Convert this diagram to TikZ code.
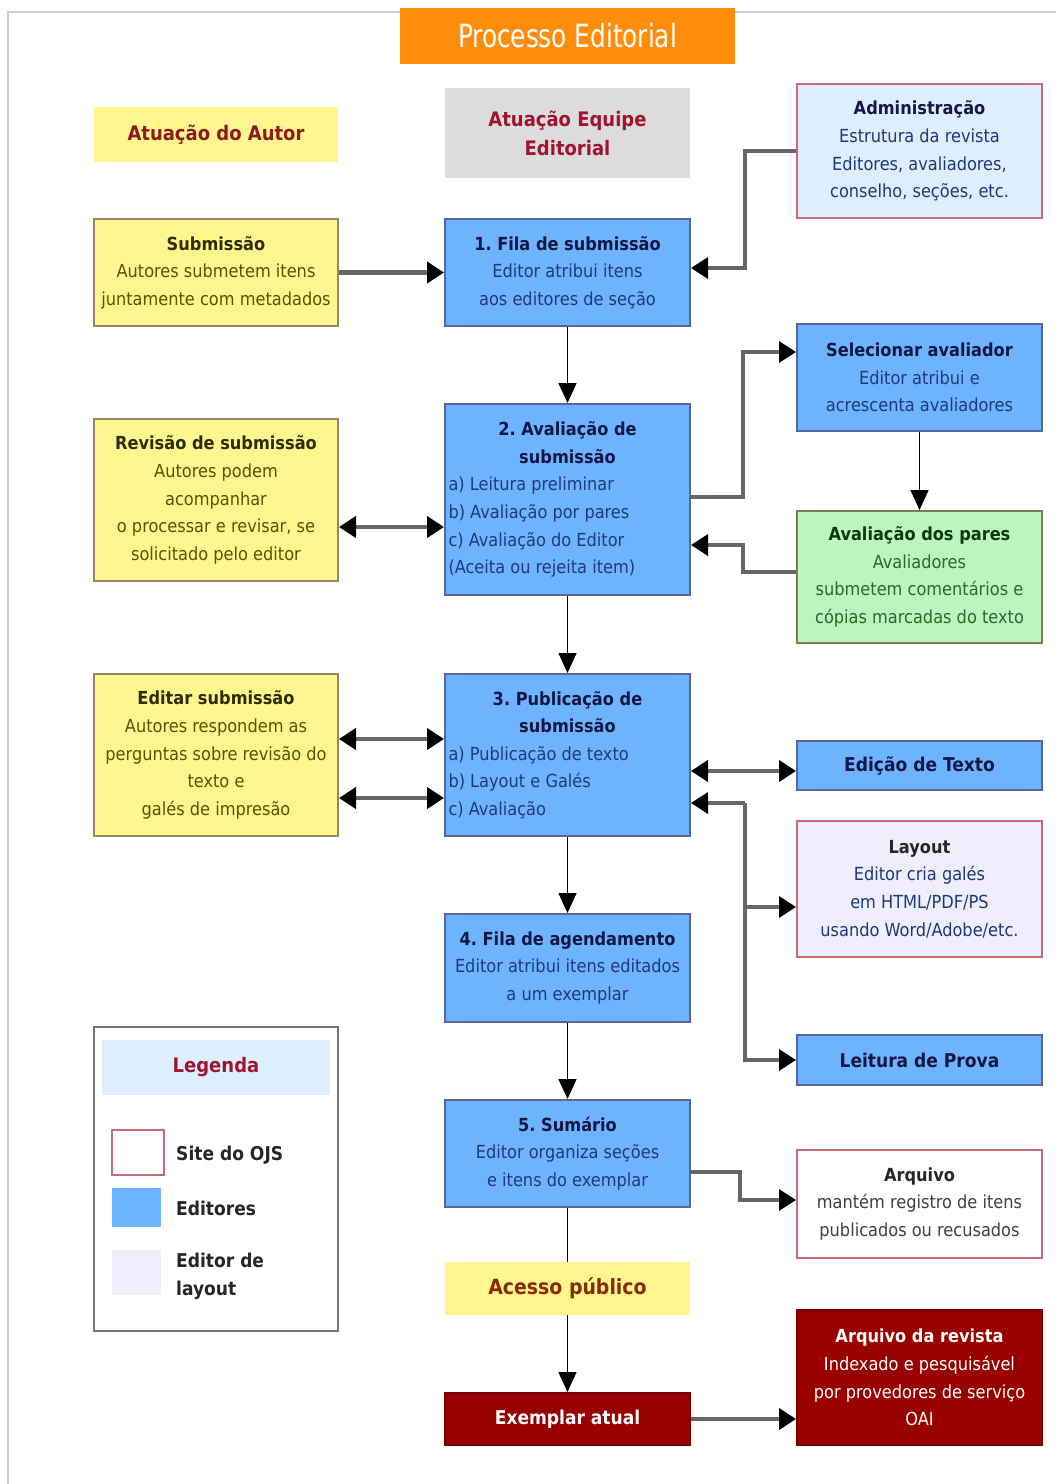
\documentclass[tikz,border=0pt]{standalone}
\usepackage{fontspec}
\setmainfont{DejaVu Sans Condensed}
\usepackage{graphicx}
\usetikzlibrary{arrows.meta}
\frenchspacing

\definecolor{ylw}{HTML}{FFF68F}
\definecolor{ylwb}{HTML}{9A8660}
\definecolor{blu}{HTML}{6DB3FF}
\definecolor{blub}{HTML}{56679A}
\definecolor{grn}{HTML}{BDF5BD}
\definecolor{grnb}{HTML}{7E7A5E}
\definecolor{admf}{HTML}{DDEEFF}
\definecolor{pinkb}{HTML}{C86A78}
\definecolor{lav}{HTML}{EEEEFC}
\definecolor{dred}{HTML}{990000}
\definecolor{hgray}{HTML}{DCDCDC}
\definecolor{orng}{HTML}{FF8C0A}
\definecolor{hred}{HTML}{8E1A1A}
\definecolor{hcrim}{HTML}{A0142E}
\definecolor{accc}{HTML}{8A2A00}
\definecolor{navyt}{HTML}{141845}
\definecolor{navyb}{HTML}{1F3A7A}
\definecolor{olvt}{HTML}{2E2E00}
\definecolor{olvb}{HTML}{585400}
\definecolor{grnt}{HTML}{0A3A0A}
\definecolor{grnbt}{HTML}{2A6A2A}
\definecolor{cgray}{HTML}{666666}
\definecolor{framec}{HTML}{CFCFCF}
\definecolor{legb}{HTML}{777777}

\newcommand\fs{\fontsize{18}{27.6}\selectfont}
\newcommand\ttl[2]{\textcolor{#1}{\bfseries #2}}
\newcommand\bx[7]{\node[#6, minimum width=#4pt-#2pt, minimum height=#5pt-#3pt] (#1) at ({(#2+#4)/2},{(#3+#5)/2}) {#7};}

\tikzset{
  bxs/.style={draw, line width=2pt, inner sep=2pt, align=center, font=\fs},
  ybox/.style={bxs, fill=ylw, draw=ylwb, text=olvb},
  bbox/.style={bxs, fill=blu, draw=blub, text=navyb},
  gbox/.style={bxs, fill=grn, draw=grnb, text=grnbt},
  abox/.style={bxs, fill=admf, draw=pinkb, text=navyb},
  lbox/.style={bxs, fill=lav, draw=pinkb, text=navyb},
  wbox/.style={bxs, fill=white, draw=pinkb, text=black!75},
  rbox/.style={bxs, fill=dred, draw=dred!80!black, text=white},
  hdr/.style={inner sep=2pt, align=center, font=\fontsize{20}{29}\selectfont\bfseries},
  hconn/.style={draw=cgray, line width=4.5pt, -{Triangle[length=17pt,width=21pt,color=black]}},
  hdbl/.style={draw=cgray, line width=4.5pt, {Triangle[length=17pt,width=21pt,color=black]}-{Triangle[length=17pt,width=21pt,color=black]}},
  vconn/.style={draw=black, line width=1.6pt, -{Triangle[length=20pt,width=18pt]}},
  elb/.style={draw=cgray, line width=3.5pt, line join=miter},
  elba/.style={elb, -{Triangle[length=17pt,width=21pt,color=black]}},
}

\begin{document}
\begin{tikzpicture}[x=1pt,y=-1pt]
\useasboundingbox (0,0) rectangle (1056,1484);
\fill[white] (0,0) rectangle (1056,1484);
\draw[framec, line width=2pt] (8,1484) -- (8,12) -- (1056,12);

% title
\bx{title}{400}{8}{735}{64}{inner sep=0pt, fill=orng, text=white, font=\fontsize{32}{32}\selectfont}{\scalebox{0.86}[1]{Processo Editorial}}

% headers
\bx{autor}{94}{107}{338}{162}{hdr, fill=ylw, text=hred}{Atuação do Autor}
\bx{equipe}{445}{88}{690}{178}{hdr, fill=hgray, text=hcrim}{Atuação Equipe\\Editorial}

% right column
\bx{adm}{797}{84}{1042}{218}{abox}{\ttl{navyt}{Administração}\\Estrutura da revista\\Editores, avaliadores,\\conselho, seções, etc.}
\bx{sel}{797}{324}{1042}{431}{bbox}{\ttl{navyt}{Selecionar avaliador}\\Editor atribui e\\acrescenta avaliadores}
\bx{pares}{797}{511}{1042}{643}{gbox}{\ttl{grnt}{Avaliação dos pares}\\Avaliadores\\submetem comentários e\\cópias marcadas do texto}
\bx{edic}{797}{741}{1042}{790}{bbox, font=\fontsize{19}{27}\selectfont}{\ttl{navyt}{Edição de Texto}}
\bx{layout}{797}{821}{1042}{957}{lbox}{\ttl{black!85}{Layout}\\Editor cria galés\\em HTML/PDF/PS\\usando Word/Adobe/etc.}
\bx{leit}{797}{1035}{1042}{1085}{bbox, font=\fontsize{19}{27}\selectfont}{\ttl{navyt}{Leitura de Prova}}
\bx{arq}{797}{1150}{1042}{1258}{wbox}{\ttl{black!85}{Arquivo}\\mantém registro de itens\\publicados ou recusados}
\bx{arqr}{797}{1310}{1042}{1445}{rbox}{\textbf{Arquivo da revista}\\Indexado e pesquisável\\por provedores de serviço\\OAI}

% left column
\bx{sub}{94}{219}{338}{326}{ybox}{\ttl{olvt}{Submissão}\\Autores submetem itens\\juntamente com metadados}
\bx{rev}{94}{419}{338}{581}{ybox}{\ttl{olvt}{Revisão de submissão}\\Autores podem\\acompanhar\\o processar e revisar, se\\solicitado pelo editor}
\bx{edit}{94}{674}{338}{836}{ybox}{\ttl{olvt}{Editar submissão}\\Autores respondem as\\perguntas sobre revisão do\\texto e\\galés de impresão}

% center column
\bx{fila}{445}{219}{690}{326}{bbox}{\ttl{navyt}{1. Fila de submissão}\\Editor atribui itens\\aos editores de seção}
\bx{aval}{445}{404}{690}{595}{bbox}{\parbox{238pt}{\fs\centering\ttl{navyt}{2. Avaliação de\\submissão}\par\raggedright a) Leitura preliminar\\b) Avaliação por pares\\c) Avaliação do Editor\\(Aceita ou rejeita item)\par}}
\bx{pub}{445}{674}{690}{836}{bbox}{\parbox{238pt}{\fs\centering\ttl{navyt}{3. Publicação de\\submissão}\par\raggedright a) Publicação de texto\\b) Layout e Galés\\c) Avaliação\par}}
\bx{agend}{445}{914}{690}{1022}{bbox}{\ttl{navyt}{4. Fila de agendamento}\\Editor atribui itens editados\\a um exemplar}
\bx{sum}{445}{1100}{690}{1207}{bbox}{\ttl{navyt}{5. Sumário}\\Editor organiza seções\\e itens do exemplar}
\bx{acc}{445}{1262}{690}{1315}{hdr, fill=ylw, text=accc, font=\fontsize{21}{28}\selectfont\bfseries}{Acesso público}
\bx{ex}{445}{1393}{690}{1445}{rbox, font=\fontsize{19}{27}\selectfont}{\textbf{Exemplar atual}}

% coordinates for connectors
\coordinate (cA) at (745,268);
\coordinate (cB) at (743,497);
\coordinate (cB2) at (743,352);
\coordinate (cC) at (743,572);
\coordinate (cC2) at (743,545);
\coordinate (c527) at (0,527);
\coordinate (c739) at (0,739);
\coordinate (c798) at (0,798);
\coordinate (c771) at (0,771);
\coordinate (cD) at (745,803);
\coordinate (cD2) at (745,907);
\coordinate (cD3) at (745,1060);
\coordinate (cE) at (740,1172);
\coordinate (cE2) at (740,1200);
\coordinate (c1419) at (0,1419);

% vertical main flow
\draw[vconn] (fila.south) -- (aval.north);
\draw[vconn] (aval.south) -- (pub.north);
\draw[vconn] (pub.south) -- (agend.north);
\draw[vconn] (agend.south) -- (sum.north);
\draw[vconn] (sel.south) -- (pares.north);
\draw[black, line width=1.6pt] (sum.south) -- (acc.north);
\draw[vconn] (acc.south) -- (ex.north);

% horizontal connectors
\draw[hconn] (sub.east) -- (fila.west);
\draw[hdbl] (rev.east |- c527) -- (aval.west |- c527);
\draw[hdbl] (edit.east |- c739) -- (pub.west |- c739);
\draw[hdbl] (edit.east |- c798) -- (pub.west |- c798);
\draw[hdbl] (pub.east |- c771) -- (edic.west |- c771);
\draw[hconn] (ex.east |- c1419) -- (arqr.west |- c1419);

% elbow connectors
\draw[elba] (adm.west) -| (cA) -- (fila.east |- cA);
\draw[elba] (aval.east |- cB) -- (cB) -- (cB2) -- (sel.west |- cB2);
\draw[elba] (pares.west |- cC) -- (cC) -- (cC2) -- (aval.east |- cC2);
\draw[elb] (cD) -- (cD3);
\draw[elba] (cD) -- (pub.east |- cD);
\draw[elba] (cD2) -- (layout.west |- cD2);
\draw[elba] ([xshift=-1.75pt]cD3) -- (leit.west |- cD3);
\draw[elba] (sum.east |- cE) -- (cE) -- (cE2) -- (arq.west |- cE2);

% legend
\bx{leg}{94}{1027}{338}{1331}{draw=legb, line width=2pt, fill=white}{}
\bx{legh}{102}{1040}{330}{1095}{hdr, fill=admf, text=hcrim}{Legenda}
\bx{sw1}{112}{1130}{164}{1175}{draw=pinkb, line width=2pt, fill=white}{}
\bx{sw2}{112}{1188}{161}{1227}{fill=blu}{}
\bx{sw3}{112}{1250}{161}{1295}{fill=lav}{}
\node[anchor=west, inner sep=0pt, font=\fontsize{19}{27}\selectfont\bfseries, text=black!85] (l1) at (176,1155) {Site do OJS};
\node[anchor=west, inner sep=0pt, font=\fontsize{19}{27}\selectfont\bfseries, text=black!85] (l2) at (176,1208) {Editores};
\node[anchor=west, inner sep=0pt, align=left, font=\fontsize{19}{28}\selectfont\bfseries, text=black!85] (l3) at (176,1276) {Editor de\\layout};
\end{tikzpicture}
\end{document}
